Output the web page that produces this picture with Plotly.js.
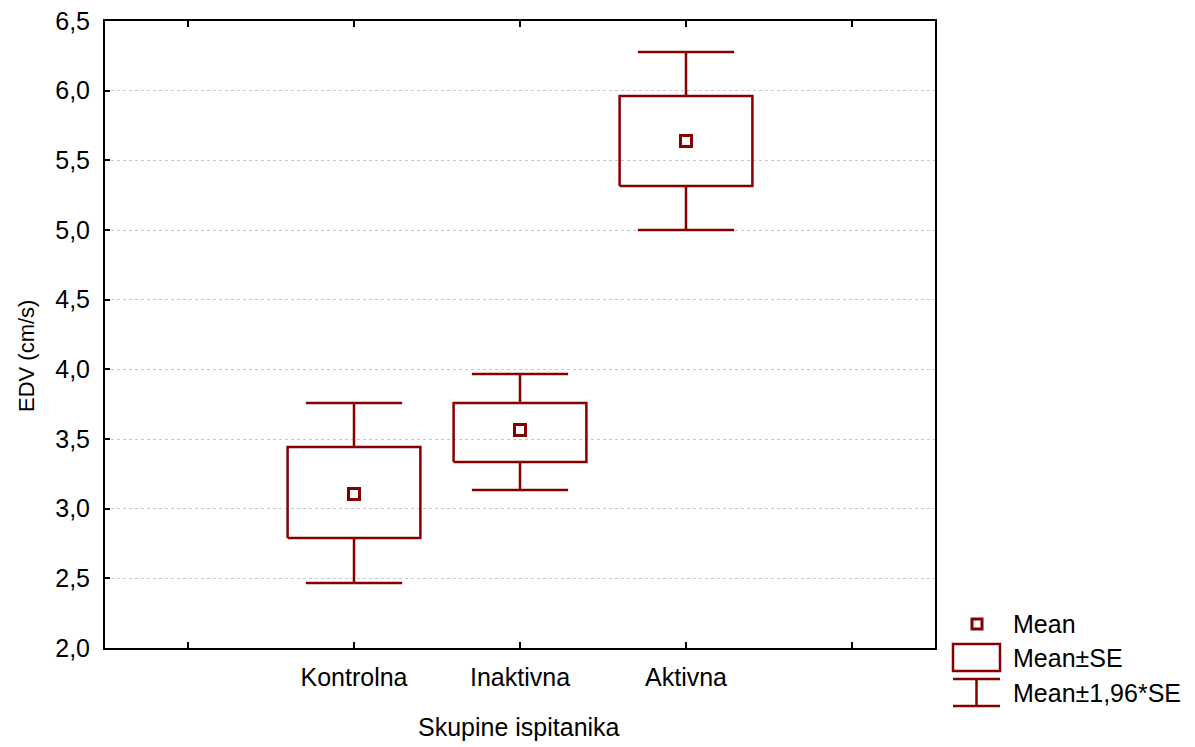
<!DOCTYPE html>
<html>
<head>
<meta charset="utf-8">
<script src="https://cdn.plot.ly/plotly-3.0.1.min.js"></script>
<style>html,body{margin:0;padding:0;background:#fff;}#chart{width:1195px;height:747px;}</style>
</head>
<body>
<div id="chart"></div>
<script>
// Data
const categories = ["Kontrolna", "Inaktivna", "Aktivna"];
const means = [3.105, 3.565, 5.639];
const seLow = [2.789, 3.335, 5.316];
const seHigh = [3.443, 3.758, 5.962];
const ciLow = [2.466, 3.134, 5.000];
const ciHigh = [3.758, 3.966, 6.278];
const tickLabels = ["", "Kontrolna", "Inaktivna", "Aktivna", ""];
const yTicks = [2.0, 2.5, 3.0, 3.5, 4.0, 4.5, 5.0, 5.5, 6.0, 6.5];

const COLOR = "#850000";
const FONT = "Liberation Sans, Arial, sans-serif";
const BOX_HALF = 0.4;
const CAP_HALF = 0.29;

const traces = [];
categories.forEach((c, k) => {
  const i = k + 1;
  // Mean ± SE box
  traces.push({
    type: "scatter", mode: "lines", showlegend: false, hoverinfo: "skip",
    x: [i - BOX_HALF, i + BOX_HALF, i + BOX_HALF, i - BOX_HALF, i - BOX_HALF],
    y: [seLow[k], seLow[k], seHigh[k], seHigh[k], seLow[k]],
    line: {color: COLOR, width: 2.5}
  });
  // Whiskers Mean ± 1,96*SE
  traces.push({
    type: "scatter", mode: "lines", showlegend: false, hoverinfo: "skip",
    x: [i, i, null, i - CAP_HALF, i + CAP_HALF, null, i, i, null, i - CAP_HALF, i + CAP_HALF],
    y: [seHigh[k], ciHigh[k], null, ciHigh[k], ciHigh[k], null, seLow[k], ciLow[k], null, ciLow[k], ciLow[k]],
    line: {color: COLOR, width: 2.5}
  });
});
// Means
traces.push({
  type: "scatter", mode: "markers", showlegend: false,
  x: categories.map((c, k) => k + 1), y: means,
  marker: {symbol: "square-open", size: 11, color: COLOR, line: {color: COLOR, width: 3}}
});

// Legend and titles placed in paper coordinates (plot area: x 105..935 px, y 21..648 px)
const L = 105, R = 935, T = 21, B = 648;
const px = v => (v - L) / (R - L);
const py = v => (B - v) / (B - T);
const shapes = [
  {type: "rect", xref: "paper", yref: "paper", x0: px(972), x1: px(982), y0: py(629), y1: py(619), line: {color: COLOR, width: 3}},
  {type: "rect", xref: "paper", yref: "paper", x0: px(953), x1: px(1000), y0: py(671), y1: py(644), line: {color: COLOR, width: 2.5}},
  {type: "line", xref: "paper", yref: "paper", x0: px(953), x1: px(1000), y0: py(679), y1: py(679), line: {color: COLOR, width: 2.5}},
  {type: "line", xref: "paper", yref: "paper", x0: px(953), x1: px(1000), y0: py(706), y1: py(706), line: {color: COLOR, width: 2.5}},
  {type: "line", xref: "paper", yref: "paper", x0: px(976.5), x1: px(976.5), y0: py(679), y1: py(706), line: {color: COLOR, width: 2.5}}
];
const legendText = ["Mean", "Mean±SE", "Mean±1,96*SE"];
const legendY = [624, 658, 693];
const annotations = legendText.map((t, j) => ({
  xref: "paper", yref: "paper", x: px(1011), y: py(legendY[j]),
  xanchor: "left", yanchor: "middle", showarrow: false, text: t,
  font: {family: FONT, size: 25, color: "#000"}
}));
annotations.push({
  xref: "paper", yref: "paper", x: px(519), y: py(727),
  xanchor: "center", yanchor: "middle", showarrow: false, text: "Skupine ispitanika",
  font: {family: FONT, size: 25, color: "#000"}
});
annotations.push({
  xref: "paper", yref: "paper", x: px(26), y: py(356),
  xanchor: "center", yanchor: "middle", showarrow: false, text: "EDV (cm/s)", textangle: -90,
  font: {family: FONT, size: 22, color: "#000"}
});

const layout = {
  width: 1195, height: 747,
  margin: {l: L, r: 1195 - R, t: T, b: 747 - B, pad: 0},
  paper_bgcolor: "#fff", plot_bgcolor: "#fff",
  separators: ",.",
  font: {family: FONT, size: 25, color: "#000"},
  showlegend: false,
  xaxis: {
    range: [-0.5, 4.5], tickvals: [0, 1, 2, 3, 4], ticktext: tickLabels,
    ticks: "inside", ticklen: 6, tickwidth: 2, tickcolor: "#000",
    showline: true, linecolor: "#000", linewidth: 2, mirror: "ticks",
    showgrid: false, zeroline: false, ticklabelstandoff: 6,
    tickfont: {family: FONT, size: 25}
  },
  yaxis: {
    range: [2.0, 6.5], tickvals: yTicks, tickformat: ".1f",
    ticks: "inside", ticklen: 5, tickwidth: 2, tickcolor: "#000",
    showline: true, linecolor: "#000", linewidth: 2, mirror: true,
    showgrid: true, gridcolor: "#c8c8c8", griddash: "dot", gridwidth: 1,
    zeroline: false, ticklabelstandoff: 8,
    tickfont: {family: FONT, size: 25}
  },
  shapes: shapes,
  annotations: annotations
};

Plotly.newPlot("chart", traces, layout, {staticPlot: true, displayModeBar: false});
</script>
</body>
</html>
